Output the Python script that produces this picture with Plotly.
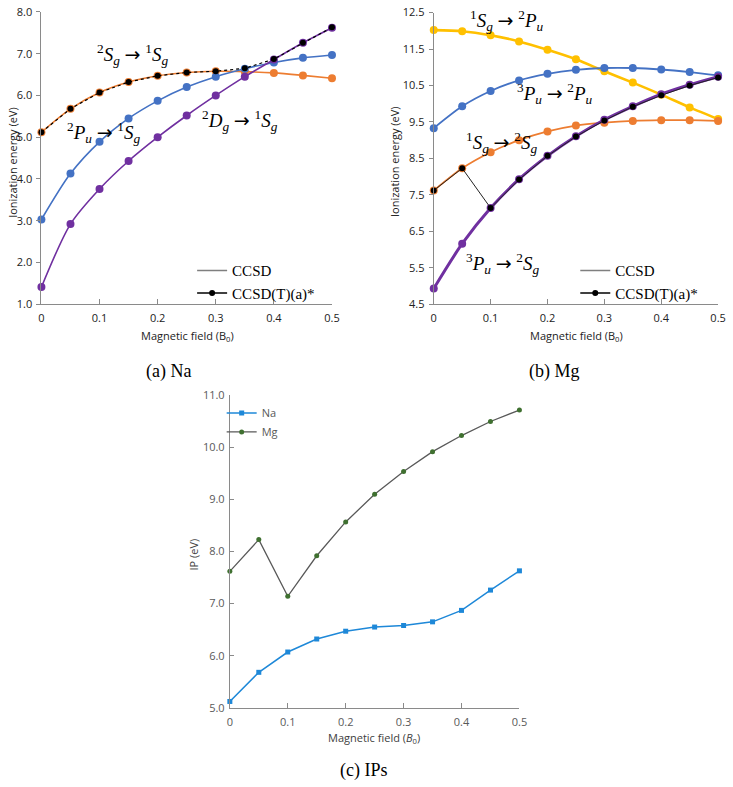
import plotly.graph_objects as go

W, H = 733, 787

field = [0, 0.05, 0.1, 0.15, 0.2, 0.25, 0.3, 0.35, 0.4, 0.45, 0.5]
x_ticks = [0, 0.1, 0.2, 0.3, 0.4, 0.5]
x_ticklabels = ["0", "0.1", "0.2", "0.3", "0.4", "0.5"]

# (a) Na, CCSD
na_2Sg_1Sg = [5.12, 5.68, 6.07, 6.32, 6.47, 6.55, 6.58, 6.57, 6.54, 6.48, 6.41]
na_2Pu_1Sg = [3.03, 4.13, 4.89, 5.45, 5.87, 6.20, 6.45, 6.64, 6.79, 6.90, 6.97]
na_2Dg_1Sg = [1.41, 2.92, 3.76, 4.43, 5.00, 5.52, 6.00, 6.45, 6.86, 7.26, 7.62]
na_ccsdt = [5.12, 5.68, 6.07, 6.32, 6.47, 6.55, 6.58, 6.65, 6.87, 7.26, 7.63]

# (b) Mg, CCSD
mg_1Sg_2Pu = [12.02, 11.99, 11.88, 11.71, 11.48, 11.22, 10.89, 10.58, 10.25, 9.90, 9.58]
mg_3Pu_2Pu = [9.33, 9.93, 10.35, 10.64, 10.82, 10.93, 10.98, 10.98, 10.94, 10.87, 10.78]
mg_1Sg_2Sg = [7.62, 8.23, 8.67, 9.00, 9.24, 9.40, 9.48, 9.53, 9.55, 9.55, 9.53]
mg_3Pu_2Sg = [4.93, 6.16, 7.14, 7.93, 8.57, 9.11, 9.56, 9.93, 10.26, 10.52, 10.74]
mg_ccsdt = [7.62, 8.23, 7.14, 7.92, 8.57, 9.10, 9.54, 9.92, 10.23, 10.50, 10.72]

ORANGE, BLUE, PURPLE, YELLOW = "#ED7D31", "#4472C4", "#7030A0", "#FFC000"
AXC = "#8a8a8a"
SERIF = "Liberation Serif"
SANS = "Open Sans"

fig = go.Figure()

def px_x(p):
    return p / W

def px_y(p):
    return 1 - p / H

def curve(xa, ya, y, color, width=1.6, msize=8):
    fig.add_trace(go.Scatter(
        x=field, y=y, xaxis=xa, yaxis=ya, mode="lines+markers",
        line=dict(color=color, width=width, shape="spline", smoothing=0.8),
        marker=dict(color=color, size=msize), showlegend=False,
        cliponaxis=False, hoverinfo="skip"))

# (a)
curve("x", "y", na_2Sg_1Sg, ORANGE)
curve("x", "y", na_2Pu_1Sg, BLUE)
curve("x", "y", na_2Dg_1Sg, PURPLE)
fig.add_trace(go.Scatter(x=field, y=na_ccsdt, xaxis="x", yaxis="y", mode="lines+markers",
                         line=dict(color="black", width=1.2, dash="dot"),
                         marker=dict(color="black", size=6), showlegend=False,
                         cliponaxis=False, hoverinfo="skip"))
# (b)
curve("x2", "y2", mg_1Sg_2Pu, YELLOW, width=2.6)
curve("x2", "y2", mg_3Pu_2Pu, BLUE, width=1.8)
curve("x2", "y2", mg_1Sg_2Sg, ORANGE, width=1.8)
curve("x2", "y2", mg_3Pu_2Sg, PURPLE, width=3)
fig.add_trace(go.Scatter(x=field, y=mg_ccsdt, xaxis="x2", yaxis="y2", mode="lines+markers",
                         line=dict(color="#222222", width=1),
                         marker=dict(color="black", size=6), showlegend=False,
                         cliponaxis=False, hoverinfo="skip"))

# legend dummies for (a) and (b)
for lg, xa, ya in (("legend", "x", "y"), ("legend2", "x2", "y2")):
    fig.add_trace(go.Scatter(x=[None], y=[None], xaxis=xa, yaxis=ya, mode="lines",
                             line=dict(color="#7f7f7f", width=1.5), name="CCSD", legend=lg))
    fig.add_trace(go.Scatter(x=[None], y=[None], xaxis=xa, yaxis=ya, mode="lines+markers",
                             line=dict(color="black", width=1.5),
                             marker=dict(color="black", size=6),
                             name="CCSD(T)(a)*", legend=lg))

# (c)
fig.add_trace(go.Scatter(x=field, y=na_ccsdt, xaxis="x3", yaxis="y3", mode="lines+markers",
                         name="Na", legend="legend3",
                         line=dict(color="#1E88D8", width=1.5),
                         marker=dict(color="#1E88D8", size=5, symbol="square"),
                         cliponaxis=False))
fig.add_trace(go.Scatter(x=field, y=mg_ccsdt, xaxis="x3", yaxis="y3", mode="lines+markers",
                         name="Mg", legend="legend3",
                         line=dict(color="#595959", width=1.3),
                         marker=dict(color="#3F7030", size=5),
                         cliponaxis=False))

def xax(domain, tickcolor):
    return dict(domain=domain, range=[0, 0.5], tickvals=x_ticks, ticktext=x_ticklabels,
                showline=True, linecolor=AXC, linewidth=1, ticks="inside", ticklen=5,
                tickcolor=AXC, showgrid=False, zeroline=False, ticklabelstandoff=4,
                tickfont=dict(family=SANS, size=11, color=tickcolor), fixedrange=True)

def yax(domain, rng, tick0, anchor, tickcolor, ticks="outside"):
    return dict(domain=domain, range=rng, tick0=tick0, dtick=1, tickformat=".1f",
                showline=True, linecolor=AXC, linewidth=1, ticks=ticks, ticklen=4,
                tickcolor=AXC, showgrid=False, zeroline=False, anchor=anchor,
                ticklabelstandoff=2,
                tickfont=dict(family=SANS, size=11, color=tickcolor), fixedrange=True)

fig.update_layout(
    width=W, height=H, margin=dict(l=0, r=0, t=0, b=0),
    paper_bgcolor="white", plot_bgcolor="white",
    xaxis=dict(xax([px_x(39), px_x(334)], "#222222"), anchor="y"),
    yaxis=yax([px_y(302), px_y(4)], [1, 8], 1, "x", "#222222"),
    xaxis2=dict(xax([px_x(437.3), px_x(726)], "#222222"), anchor="y2"),
    yaxis2=yax([px_y(302), px_y(4.7)], [4.5, 12.5], 4.5, "x2", "#222222"),
    xaxis3=dict(xax([px_x(230.3), px_x(524.3)], "#595959"), anchor="y3"),
    yaxis3=yax([px_y(713.3), px_y(395)], [5, 11], 5, "x3", "#595959", ticks="inside"),
    legend=dict(x=px_x(192), y=px_y(251), xanchor="left", yanchor="top",
                font=dict(family=SERIF, size=15, color="black"),
                bgcolor="rgba(0,0,0,0)", tracegroupgap=0),
    legend2=dict(x=px_x(581), y=px_y(251), xanchor="left", yanchor="top",
                 font=dict(family=SERIF, size=15, color="black"),
                 bgcolor="rgba(0,0,0,0)", tracegroupgap=0),
    legend3=dict(x=px_x(222), y=px_y(398), xanchor="left", yanchor="top",
                 font=dict(family=SANS, size=11, color="#595959"),
                 bgcolor="rgba(0,0,0,0)", tracegroupgap=0),
)

def ann(text, x, y, xref="paper", yref="paper", size=11, family=SANS, color="#222222", angle=0):
    fig.add_annotation(text=text, x=x, y=y, xref=xref, yref=yref, showarrow=False,
                       xanchor="center", yanchor="middle", textangle=angle,
                       font=dict(family=family, size=size, color=color))

# axis titles
ann("Magnetic field (B<sub>0</sub>)", px_x(187), px_y(334))
ann("Magnetic field (B<sub>0</sub>)", px_x(582), px_y(334))
ann("Magnetic field (<i>B</i><sub>0</sub>)", px_x(377), px_y(744), color="#404040")
ann("Ionization energy (eV)", px_x(9), px_y(157), angle=-90)
ann("Ionization energy (eV)", px_x(397), px_y(157), angle=-90)
ann("IP (eV)", px_x(193), px_y(557), angle=-90, color="#404040")

# captions
ann("(a) Na", px_x(168), px_y(371), family=SERIF, size=18, color="black")
ann("(b) Mg", px_x(560), px_y(371), family=SERIF, size=18, color="black")
ann("(c) IPs", px_x(366), px_y(777), family=SERIF, size=18, color="black")

ARROW = '<span style="font-family:DejaVu Sans">→</span>'

def st(a, A, s, b, B, t):
    return (f"<sup>{a}</sup><i>{A}</i><sub><i>{s}</i></sub> {ARROW} "
            f"<sup>{b}</sup><i>{B}</i><sub><i>{t}</i></sub>")

# state labels
ann(st(2, "S", "g", 1, "S", "g"), 0.156, 6.99, "x", "y", 19, SERIF, "black")
ann(st(2, "P", "u", 1, "S", "g"), 0.107, 5.11, "x", "y", 19, SERIF, "black")
ann(st(2, "D", "g", 1, "S", "g"), 0.342, 5.39, "x", "y", 19, SERIF, "black")
ann(st(1, "S", "g", 2, "P", "u"), 0.128, 12.28, "x2", "y2", 19, SERIF, "black")
ann(st(3, "P", "u", 2, "P", "u"), 0.214, 10.29, "x2", "y2", 19, SERIF, "black")
ann(st(1, "S", "g", 2, "S", "g"), 0.119, 8.94, "x2", "y2", 19, SERIF, "black")
ann(st(3, "P", "u", 2, "S", "g"), 0.121, 5.61, "x2", "y2", 19, SERIF, "black")

fig.write_html("out.html")
